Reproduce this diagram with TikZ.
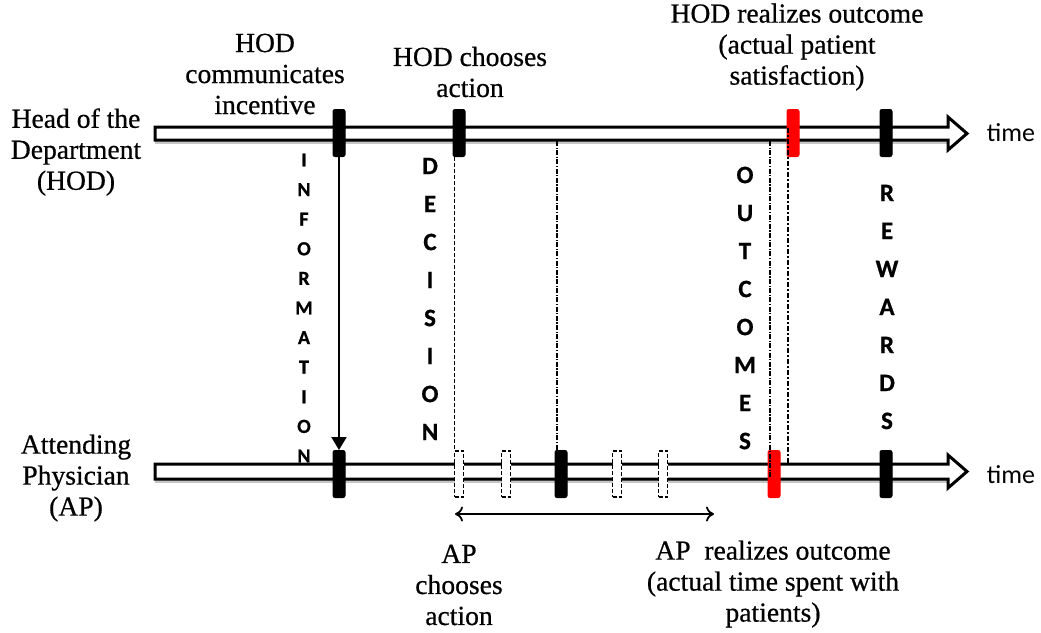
\documentclass[tikz,border=0pt]{standalone}
\usepackage{fontspec}
\setmainfont{Liberation Serif}[FakeBold=0.6]
\newfontfamily\calibri{Carlito}
\newfontfamily\calibriheavy{Carlito Bold}[FakeBold=0.8]
\usetikzlibrary{arrows.meta}

\tikzset{
  lbl/.style={align=center, inner sep=0pt, font=\fontsize{27.6}{31}\selectfont},
  vword/.style={align=center, inner sep=0pt, font=\calibriheavy\fontsize{25}{38}\selectfont},
  vwordsmall/.style={align=center, inner sep=0pt, font=\calibriheavy\fontsize{20}{29.6}\selectfont},
  timelbl/.style={inner sep=0pt, font=\calibri\fontsize{26}{30}\selectfont},
  timeline/.style={draw=black, fill=white, line width=3pt, line join=miter},
  tickbox/.style={rectangle, draw=black, fill=black, minimum width=12pt, minimum height=47pt,
                  rounded corners=2pt, inner sep=0pt, line width=1pt},
  redtick/.style={tickbox, draw=red, fill=red},
  hollowtick/.style={rectangle, draw=black, fill=white, dashed, dash pattern=on 4pt off 2pt,
                     line width=1.2pt, minimum width=9pt, minimum height=46pt, inner sep=0pt},
  dashdot/.style={line width=1.1pt, dash pattern=on 5pt off 1.5pt on 1.2pt off 1.5pt},
  dashdotbold/.style={line width=2pt, dash pattern=on 5pt off 2pt on 2pt off 2pt},
}

\begin{document}
\begin{tikzpicture}[x=1pt, y=-1pt]
\useasboundingbox (0,0) rectangle (1041,632);

% the two time axes (hollow block arrows)
\fill[gray!45] (155,141) rectangle (948,144);
\draw[timeline] (155,127) -- (948,127) -- (948,117) -- (967,133.5) -- (948,150) -- (948,140) -- (155,140) -- cycle;
\fill[gray!45] (155,480) rectangle (948,483);
\draw[timeline] (155,464) -- (948,464) -- (948,455) -- (967,471.5) -- (948,488) -- (948,479) -- (155,479) -- cycle;

\node[timelbl] (timeA) at (1011,133) {time};
\node[timelbl] (timeB) at (1011,475) {time};

% actors
\node[lbl] (hod) at (76,152) {Head of the\\Department\\(HOD)};
\node[lbl] (ap)  at (76,478) {Attending\\Physician\\(AP)};

% events on the HOD axis
\node[tickbox] (t1) at (339,133) {};
\node[tickbox] (t2) at (459,133) {};
\node[redtick] (t3) at (793,133) {};
\node[tickbox] (t4) at (886,133) {};

% events on the AP axis
\node[tickbox]    (b1) at (339,474) {};
\node[hollowtick] (b2) at (459,474) {};
\node[hollowtick] (b3) at (506,474) {};
\node[tickbox]    (b4) at (561,474) {};
\node[hollowtick] (b5) at (617,474) {};
\node[hollowtick] (b6) at (663,474) {};
\node[redtick]    (b7) at (774,474) {};
\node[tickbox]    (b8) at (886,474) {};

% event descriptions
\node[lbl] (l1) at (265,74) {HOD\\communicates\\incentive};
\node[lbl] (l2) at (470,72) {HOD chooses\\action};
\node[lbl] (l3) at (797,47) {HOD realizes outcome\\(actual patient\\satisfaction)};
\node[lbl] (l4) at (459,585) {AP\\chooses\\action};
\node[lbl] (l5) at (773,584) {AP\ \ realizes outcome\\(actual time spent with\\patients)};

% stage words
\node[vwordsmall] (w1) at (304,308) {I\\N\\F\\O\\R\\M\\A\\T\\I\\O\\N};
\node[vword] (w2) at (430,299) {D\\E\\C\\I\\S\\I\\O\\N};
\node[vword] (w3) at (745,308) {O\\U\\T\\C\\O\\M\\E\\S};
\node[vword] (w4) at (887,307) {R\\E\\W\\A\\R\\D\\S};

% links between the two axes
\draw[line width=2pt, -{Triangle[length=13pt, width=15pt]}] (t1.south) -- (b1.north);
\draw[line width=0.9pt, dash pattern=on 4pt off 2pt] ([xshift=-4.5pt]t2.south) -- ([xshift=-4.5pt]b2.north);

\coordinate (m1) at (557,141);
\draw[dashdot] (m1) -- (m1 |- b4.north);

\coordinate (o1) at (770,141);
\coordinate (o2) at (770,478);
\draw[dashdot] (o1) -- (o2);

\coordinate (r1) at (788,128);
\coordinate (r2) at (788,463);
\draw[dashdotbold] (r1) -- (r2);

% span of the AP's possible actions
\coordinate (s1) at (455,514);
\coordinate (s2) at (714,514);
\draw[line width=1.8pt, {To[length=8pt, width=15pt]}-{To[length=8pt, width=15pt]}] (s1) -- (s2);
\end{tikzpicture}
\end{document}
